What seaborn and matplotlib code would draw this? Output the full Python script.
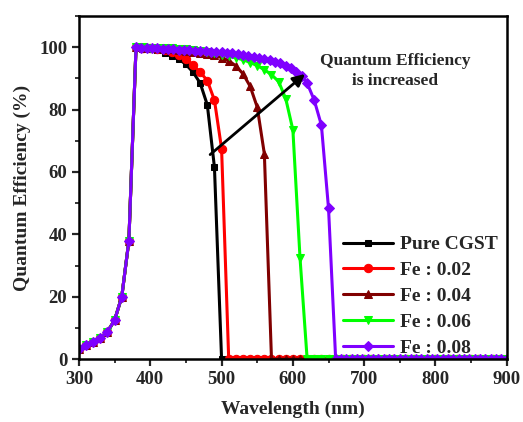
import matplotlib
matplotlib.use("Agg")
import matplotlib.pyplot as plt
import seaborn as sns
import pandas as pd
from matplotlib.ticker import MultipleLocator

sns.set_style("ticks")
plt.rcParams["font.family"] = ["Liberation Serif", "DejaVu Serif"]
plt.rcParams["font.weight"] = "bold"
plt.rcParams["axes.labelweight"] = "bold"

# ---------------- data ----------------
wl10 = [300, 310, 320, 330, 340, 350, 360, 370, 380, 390,
        400, 410, 420, 430, 440, 450, 460, 470, 480, 490,
        500, 510, 520, 530, 540, 550, 560, 570, 580, 590,
        600, 610, 620, 630, 640, 650, 660, 670, 680, 690,
        700, 710, 720, 730, 740, 750, 760, 770, 780, 790,
        800, 810, 820, 830, 840, 850, 860, 870, 880, 890,
        900]

qe_pure = [3.2, 4.5, 5.5, 6.8, 8.8, 12.5, 20.0, 38.0, 100.0, 99.8,
           99.5, 99.0, 98.3, 97.3, 96.2, 94.5, 92.0, 88.5, 81.5, 61.5,
           0, 0, 0, 0, 0, 0, 0, 0, 0, 0,
           0, 0, 0, 0, 0, 0, 0, 0, 0, 0,
           0, 0, 0, 0, 0, 0, 0, 0, 0, 0,
           0, 0, 0, 0, 0, 0, 0, 0, 0, 0,
           0]

qe_fe002 = [3.2, 4.5, 5.5, 6.8, 8.8, 12.5, 20.0, 38.0, 100.0, 99.9,
            99.7, 99.4, 99.0, 98.4, 97.6, 96.3, 94.3, 92.0, 89.3, 83.0,
            67.5, 0, 0, 0, 0, 0, 0, 0, 0, 0,
            0, 0, 0, 0, 0, 0, 0, 0, 0, 0,
            0, 0, 0, 0, 0, 0, 0, 0, 0, 0,
            0, 0, 0, 0, 0, 0, 0, 0, 0, 0,
            0]

qe_fe004 = [3.2, 4.5, 5.5, 6.8, 8.8, 12.5, 20.0, 38.0, 100.0, 99.9,
            99.8, 99.7, 99.5, 99.3, 99.1, 98.9, 98.6, 98.3, 97.9, 97.4,
            96.7, 95.7, 94.0, 91.5, 87.5, 80.8, 65.8, 0, 0, 0,
            0, 0, 0, 0, 0, 0, 0, 0, 0, 0,
            0, 0, 0, 0, 0, 0, 0, 0, 0, 0,
            0, 0, 0, 0, 0, 0, 0, 0, 0, 0,
            0]

qe_fe006 = [3.2, 4.5, 5.5, 6.8, 8.8, 12.5, 20.0, 38.0, 100.0, 100.0,
            99.9, 99.8, 99.7, 99.6, 99.5, 99.3, 99.1, 98.9, 98.5, 98.1,
            97.6, 97.1, 96.6, 96.0, 95.1, 94.1, 92.8, 91.2, 89.0, 83.5,
            73.5, 32.5, 0, 0, 0, 0, 0, 0, 0, 0,
            0, 0, 0, 0, 0, 0, 0, 0, 0, 0,
            0, 0, 0, 0, 0, 0, 0, 0, 0, 0,
            0]

wl_fe008 = [300, 310, 320, 330, 340, 350, 360, 370, 380, 387.5,
            395, 402.5, 410, 417.5, 425, 432.5, 440, 447.5, 455, 462.5,
            470, 477.5, 485, 492.5, 500, 507.5, 515, 522.5, 530, 537.5,
            545, 552.5, 560, 567.5, 575, 582.5, 590, 597.5, 605, 612.5,
            620, 630, 640, 650, 660, 667.5, 675, 682.5, 690, 697.5,
            705, 712.5, 720, 727.5, 735, 742.5, 750, 757.5, 765, 772.5,
            780, 787.5, 795, 802.5, 810, 817.5, 825, 832.5, 840, 847.5,
            855, 862.5, 870, 877.5, 885, 892.5, 900]
qe_fe008 = [3.2, 4.5, 5.5, 6.8, 8.8, 12.5, 20.0, 38.0, 100.0, 99.9,
            99.8, 99.7, 99.6, 99.5, 99.4, 99.3, 99.2, 99.1, 99.0, 98.9,
            98.8, 98.7, 98.6, 98.5, 98.4, 98.2, 98.0, 97.8, 97.6, 97.3,
            97.0, 96.7, 96.3, 95.9, 95.4, 94.8, 94.1, 93.2, 92.2, 90.8,
            88.5, 83.0, 75.0, 48.3, 0, 0, 0, 0, 0, 0,
            0, 0, 0, 0, 0, 0, 0, 0, 0, 0,
            0, 0, 0, 0, 0, 0, 0, 0, 0, 0,
            0, 0, 0, 0, 0, 0, 0]

labels = ["Pure CGST", "Fe : 0.02", "Fe : 0.04", "Fe : 0.06", "Fe : 0.08"]
colors = ["#000000", "#ff0000", "#800000", "#00ff00", "#7f00ff"]
markers = ["s", "o", "^", "v", "D"]
msizes = [5, 6, 6, 6, 5]

series = [(wl10, qe_pure), (wl10, qe_fe002), (wl10, qe_fe004), (wl10, qe_fe006),
          (wl_fe008, qe_fe008)]

# ---------------- plot ----------------
fig = plt.figure(figsize=(5.23, 4.22), dpi=100)
ax = fig.add_axes([0.151, 0.149, 0.818, 0.813])

for (x, y), lab, c, m, ms in zip(series, labels, colors, markers, msizes):
    df = pd.DataFrame({"Wavelength": x, "QE": y})
    sns.lineplot(data=df, x="Wavelength", y="QE", ax=ax, color=c, marker=m,
                 markersize=ms, markeredgecolor=c, linewidth=2.2, label=lab,
                 errorbar=None, sort=False)

ax.set_xlim(300, 900)
ax.set_ylim(0, 110)
ax.set_xticks([300, 400, 500, 600, 700, 800, 900])
ax.set_yticks([0, 20, 40, 60, 80, 100])
ax.xaxis.set_minor_locator(MultipleLocator(50))
ax.yaxis.set_minor_locator(MultipleLocator(10))
ax.tick_params(which="major", direction="out", length=5, width=1.6, labelsize=13.5,
               top=False, right=False)
ax.tick_params(which="minor", direction="out", length=3, width=1.3, top=False, right=False)
for lab in ax.get_xticklabels() + ax.get_yticklabels():
    lab.set_fontweight("bold")
for sp in ax.spines.values():
    sp.set_visible(True)
    sp.set_linewidth(1.8)
    sp.set_color("black")

ax.set_xlabel("Wavelength (nm)", fontsize=14, fontweight="bold", labelpad=9)
ax.set_ylabel("Quantum Efficiency (%)", fontsize=14, fontweight="bold", labelpad=6)

ax.annotate("", xy=(620, 92), xytext=(481, 65),
            arrowprops=dict(arrowstyle="-|>", color="black", lw=2,
                            mutation_scale=18))
ax.text(743, 92.5, "Quantum Efficiency\nis increased", ha="center", va="center",
        fontsize=12.5, fontweight="bold", linespacing=1.35)

leg = ax.legend(loc="lower right", bbox_to_anchor=(1.0, -0.018), frameon=False,
                handlelength=2.6, handletextpad=0.35, labelspacing=0.42,
                borderaxespad=0.05, prop={"weight": "bold", "size": 14})

fig.savefig("out.png", dpi=100)
